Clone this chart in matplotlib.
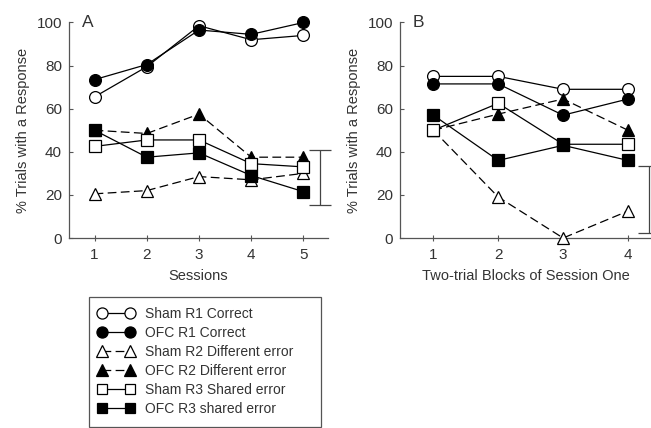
import matplotlib
matplotlib.use("Agg")
import matplotlib.pyplot as plt
from matplotlib.patches import Rectangle
from matplotlib.lines import Line2D

plt.rcParams['font.family'] = ['Liberation Sans', 'DejaVu Sans']

sessions = [1, 2, 3, 4, 5]
blocks = [1, 2, 3, 4]

# Panel A values (% trials with a response)
a_sham_r1 = [65.5, 79.5, 98.5, 92, 94]
a_ofc_r1 = [73.5, 80.5, 96.5, 94.5, 100]
a_sham_r2 = [20.5, 22, 28.5, 27, 30]
a_ofc_r2 = [50, 48.5, 57.5, 37.5, 37.5]
a_sham_r3 = [42.5, 45.5, 45.5, 34.5, 33]
a_ofc_r3 = [50, 37.5, 39.5, 29, 21.5]
a_err = [15.5, 41]

# Panel B values
b_sham_r1 = [75, 75, 69, 69]
b_ofc_r1 = [71.5, 71.5, 57, 64.5]
b_sham_r2 = [50, 19, 0, 12.5]
b_ofc_r2 = [50, 57.5, 64.5, 50]
b_sham_r3 = [50, 62.5, 43.5, 43.5]
b_ofc_r3 = [57, 36, 43, 36]
b_err = [2.5, 33.5]

labels = ["Sham R1 Correct", "OFC R1 Correct", "Sham R2 Different error",
          "OFC R2 Different error", "Sham R3 Shared error", "OFC R3 shared error"]

TXT = '#333333'
AX = '#555555'
DASH = (0, (7, 3.5))

styles = [
    dict(marker='o', mfc='white', ls='-'),
    dict(marker='o', mfc='black', ls='-'),
    dict(marker='^', mfc='white', ls=DASH),
    dict(marker='^', mfc='black', ls=DASH),
    dict(marker='s', mfc='white', ls='-'),
    dict(marker='s', mfc='black', ls='-'),
]
msizes = [8.5, 8.5, 8.5, 8.5, 8, 8]

W, H = 651, 428
fig = plt.figure(figsize=(W / 100, H / 100), dpi=100)

def px_axes(l, r, b, t):
    return fig.add_axes([l / W, 1 - b / H, (r - l) / W, (b - t) / H])

axA = px_axes(69, 328, 238, 22.5)
axB = px_axes(400, 652, 238, 22.5)

def style_ax(ax, xlim, xticks, xlabel, letter):
    ax.set_xlim(*xlim)
    ax.set_ylim(0, 100)
    ax.set_xticks(xticks)
    ax.set_yticks([0, 20, 40, 60, 80, 100])
    for s in ['top', 'right']:
        ax.spines[s].set_visible(False)
    for s in ['left', 'bottom']:
        ax.spines[s].set_color(AX)
        ax.spines[s].set_linewidth(0.9)
    ax.tick_params(axis='y', direction='in', length=3, color=AX, labelsize=11,
                   labelcolor=TXT, pad=5)
    ax.tick_params(axis='x', direction='inout', length=4, color=AX, labelsize=11,
                   labelcolor=TXT, pad=5)
    ax.set_xlabel(xlabel, fontsize=10.5, color=TXT, labelpad=5)
    ax.set_ylabel("% Trials with a Response", fontsize=10.5, color=TXT, labelpad=5)
    ax.text(0.05, 1.0, letter, transform=ax.transAxes, fontsize=12.5, color=TXT,
            va='center', ha='left')

seriesA = [a_sham_r1, a_ofc_r1, a_sham_r2, a_ofc_r2, a_sham_r3, a_ofc_r3]
seriesB = [b_sham_r1, b_ofc_r1, b_sham_r2, b_ofc_r2, b_sham_r3, b_ofc_r3]

for ax, xs, series in [(axA, sessions, seriesA), (axB, blocks, seriesB)]:
    for ys, st, ms in zip(series, styles, msizes):
        ax.plot(xs, ys, color='black', lw=0.9, linestyle=st['ls'], marker=st['marker'],
                mfc=st['mfc'], mec='black', mew=0.9, ms=ms, clip_on=False, zorder=3)

style_ax(axA, (0.51, 5.47), sessions, "Sessions", "A")
style_ax(axB, (0.486, 4.37), blocks, "Two-trial Blocks of Session One", "B")

# error bars
axA.errorbar([5.32], [(a_err[0] + a_err[1]) / 2], yerr=[(a_err[1] - a_err[0]) / 2],
             color='#444444', lw=0.9, capsize=8, capthick=0.9, clip_on=False)
axB.errorbar([4.32], [(b_err[0] + b_err[1]) / 2], yerr=[(b_err[1] - b_err[0]) / 2],
             color='#444444', lw=0.9, capsize=8, capthick=0.9, clip_on=False)

# legend
handles = [Line2D([0], [0], color='black', lw=0.9, linestyle=st['ls'], marker=st['marker'],
                  mfc=st['mfc'], mec='black', mew=0.9, ms=ms - 0.5)
           for st, ms in zip(styles, msizes)]
fig.add_artist(Rectangle((89 / W, 1 - 427 / H), (321 - 89) / W, (427 - 297) / H,
                         transform=fig.transFigure, fill=False, edgecolor='#555555', lw=0.9))
fig.legend(handles, labels, loc='upper left', bbox_to_anchor=(98 / W, 1 - 307 / H),
           frameon=False, numpoints=2, handlelength=2.6, handletextpad=0.8,
           labelspacing=0.36, fontsize=10, labelcolor=TXT, borderpad=0, borderaxespad=0)

fig.savefig("out.png", dpi=100)
